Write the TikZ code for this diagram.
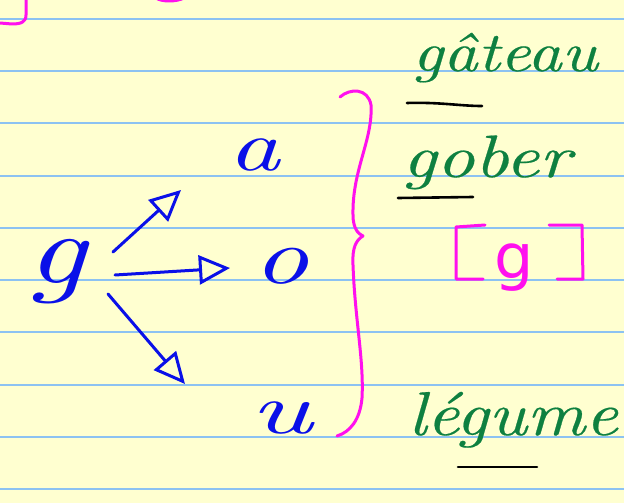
\documentclass[tikz,border=0pt]{standalone}
\usepackage{fontspec}
\usetikzlibrary{arrows.meta}
\newfontfamily\handfont{lmroman10-italic.otf}[FakeBold=0.3]
\newfontfamily\handlight{lmroman10-italic.otf}
\newfontfamily\roundfont{DejaVu Sans}
\definecolor{paper}{HTML}{FFFFD0}
\definecolor{rule}{HTML}{8CC2F2}
\definecolor{inkblue}{HTML}{0A10E8}
\definecolor{inkgreen}{HTML}{0E8040}
\definecolor{inkpink}{HTML}{FF10EE}
\tikzset{
  ruling/.style={draw=rule, line width=2pt},
  pinkink/.style={draw=inkpink, line width=3pt, line cap=round, line join=round},
  blueink/.style={draw=inkblue, line width=3pt, line cap=round, line join=round},
  underl/.style={draw=black, line width=2.6pt, line cap=round},
  wordgreen/.style={text=inkgreen, inner sep=0pt, anchor=base west},
  letterblue/.style={text=inkblue, inner sep=0pt, anchor=base},
  opentip/.style={-{Triangle[open, length=31pt, width=29pt, line width=3pt]}}
}
\newcommand{\hw}[3]{\scalebox{#1}[1]{\fontsize{#2}{#2}\selectfont\handfont #3}}
\newcommand{\hl}[3]{\scalebox{#1}[1]{\fontsize{#2}{#2}\selectfont\handlight #3}}
\begin{document}
\begin{tikzpicture}[x=1pt, y=-1pt]
  \fill[paper] (0,0) rectangle (624,503);
  \useasboundingbox (0,0) rectangle (624,503);
  % ruled lines
  \foreach \yy in {19,71,123,176,228,280,332,385,437,489}
    \draw[ruling] (0,\yy) -- (624,\yy);
  % fragments at the top
  \draw[pinkink] (26,0) -- (26,15) .. controls (26,22) and (21,24) .. (12,24) -- (0,23);
  \draw[pinkink] (156,-2) .. controls (162,2) and (176,2) .. (184,-2);
  % green words
  \node[wordgreen] (gateau) at (412,71) {\hw{1.2}{56}{gâteau}};
  \node[wordgreen] (gober) at (402,177) {\hw{1.24}{60}{gober}};
  \node[wordgreen] (legume) at (408,435) {\hw{1.15}{62}{légume}};
  % underlines of the g
  \draw[underl] (407,103) .. controls (440,102) and (460,106) .. (482,106);
  \draw[underl] (398,198) -- (473,197);
  \draw[underl] (458,467) -- (537,467);
  % brace
  \draw[pinkink] (340,97) .. controls (350,88) and (368,88) .. (371,105)
     .. controls (373,140) and (352,170) .. (353,215)
     .. controls (353,228) and (358,234) .. (363,236)
     .. controls (356,240) and (352,248) .. (353,265)
     .. controls (355,320) and (364,360) .. (362,398)
     .. controls (360,420) and (350,432) .. (337,436);
  % phonetic [g]
  \node[text=inkpink, inner sep=0pt, anchor=base] (phon) at (514,278) {\fontsize{62}{62}\selectfont\roundfont g};
  \draw[pinkink] (485,225) -- (456,227) -- (456,279) -- (483,279);
  \draw[pinkink] (549,225) -- (582,225) -- (583,279) -- (557,279);
  % blue letters
  \node[letterblue] (g) at (56,283) {\hl{1.3}{100}{g}};
  \node[letterblue] (a) at (254,170) {\hl{1.4}{72}{a}};
  \node[letterblue] (o) at (281,283) {\hl{1.35}{80}{o}};
  \node[letterblue] (u) at (281,433) {\hl{1.6}{72}{u}};
  % arrows
  \coordinate (s1) at (113,252); \coordinate (e1) at (181,190);
  \coordinate (s2) at (115,275); \coordinate (e2) at (230,268);
  \coordinate (s3) at (108,294); \coordinate (e3) at (185,384);
  \draw[blueink, opentip] (s1) -- (e1);
  \draw[blueink, opentip] (s2) -- (e2);
  \draw[blueink, opentip] (s3) -- (e3);
\end{tikzpicture}
\end{document}
